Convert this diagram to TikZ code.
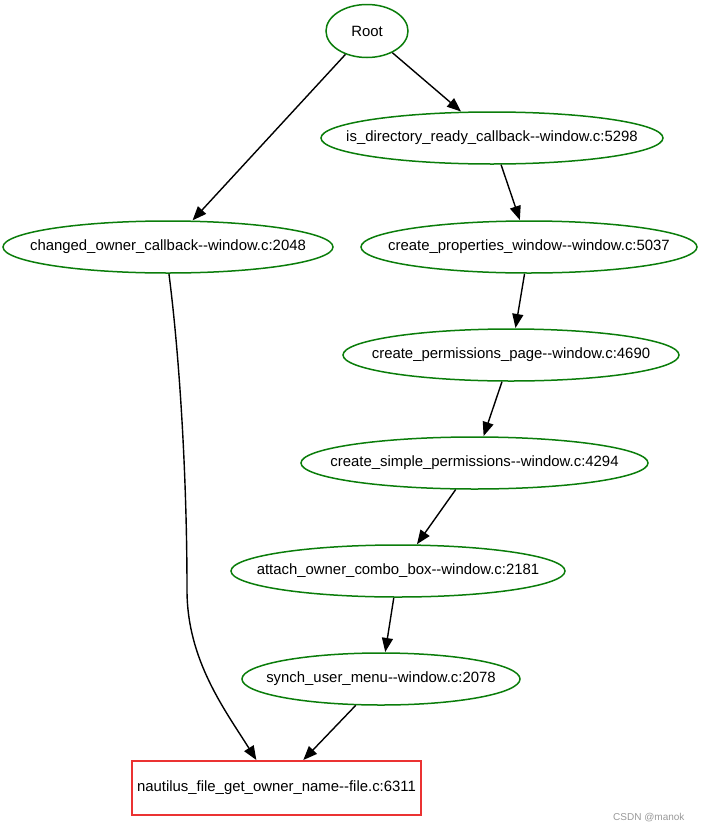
\documentclass[tikz,border=0pt]{standalone}
\usepackage{fontspec}
\setmainfont{Liberation Sans}[Ligatures=TeXOff]
\usetikzlibrary{shapes.geometric,arrows.meta}
\definecolor{ggreen}{RGB}{10,125,10}
\definecolor{gred}{RGB}{235,50,50}
\newcommand{\ztext}[1]{\makebox[0pt][c]{#1}}
\tikzset{
  fn/.style={ellipse, draw=ggreen, line width=1.5pt, inner sep=0pt, minimum height=52pt, font=\fontsize{14.9}{17}\selectfont},
  target/.style={rectangle, draw=gred, line width=1.5pt, inner sep=0pt, minimum height=54pt, minimum width=289pt, font=\fontsize{14.9}{17}\selectfont},
  edge/.style={line width=1.4pt, -{Triangle[length=14pt,width=11pt]}, shorten >=0.3pt}
}
\begin{document}
\begin{tikzpicture}[x=1pt,y=-1pt]
\useasboundingbox (0,0) rectangle (701,833);
\node[fn, minimum width=82pt, minimum height=53pt] (root) at (367,31) {\ztext{Root}};
\node[fn, minimum width=342pt] (isdir) at (492,138) {\ztext{is\_directory\_ready\_callback--window.c:5298}};
\node[fn, minimum width=330pt] (chg) at (168,247) {\ztext{changed\_owner\_callback--window.c:2048}};
\node[fn, minimum width=336pt] (cpw) at (529,247) {\ztext{create\_properties\_window--window.c:5037}};
\node[fn, minimum width=336pt] (cpp) at (511,355) {\ztext{create\_permissions\_page--window.c:4690}};
\node[fn, minimum width=347pt] (csp) at (474.5,463) {\ztext{create\_simple\_permissions--window.c:4294}};
\node[fn, minimum width=334pt] (aoc) at (398,571) {\ztext{attach\_owner\_combo\_box--window.c:2181}};
\node[fn, minimum width=278pt] (sum) at (381,679) {\ztext{synch\_user\_menu--window.c:2078}};
\node[target] (nf) at (276.5,788) {nautilus\_file\_get\_owner\_name--file.c:6311};
\node[text=gray!80, font=\fontsize{10}{12}\selectfont, anchor=east] (wm) at (688,818) {CSDN @manok};
\draw[edge] (root) -- (isdir);
\draw[edge] (root) -- (chg);
\draw[edge] (isdir) -- (cpw);
\draw[edge] (cpw) -- (cpp);
\draw[edge] (cpp) -- (csp);
\draw[edge] (csp) -- (aoc);
\draw[edge] (aoc) -- (sum);
\draw[edge] (sum) -- (nf);
\coordinate (nfin) at ([xshift=-20pt]nf.north);
\draw[edge] (chg.-88) .. controls (180,360) and (187,480) .. (187,590) .. controls (187,660) and (225,710) .. (nfin);
\end{tikzpicture}
\end{document}
